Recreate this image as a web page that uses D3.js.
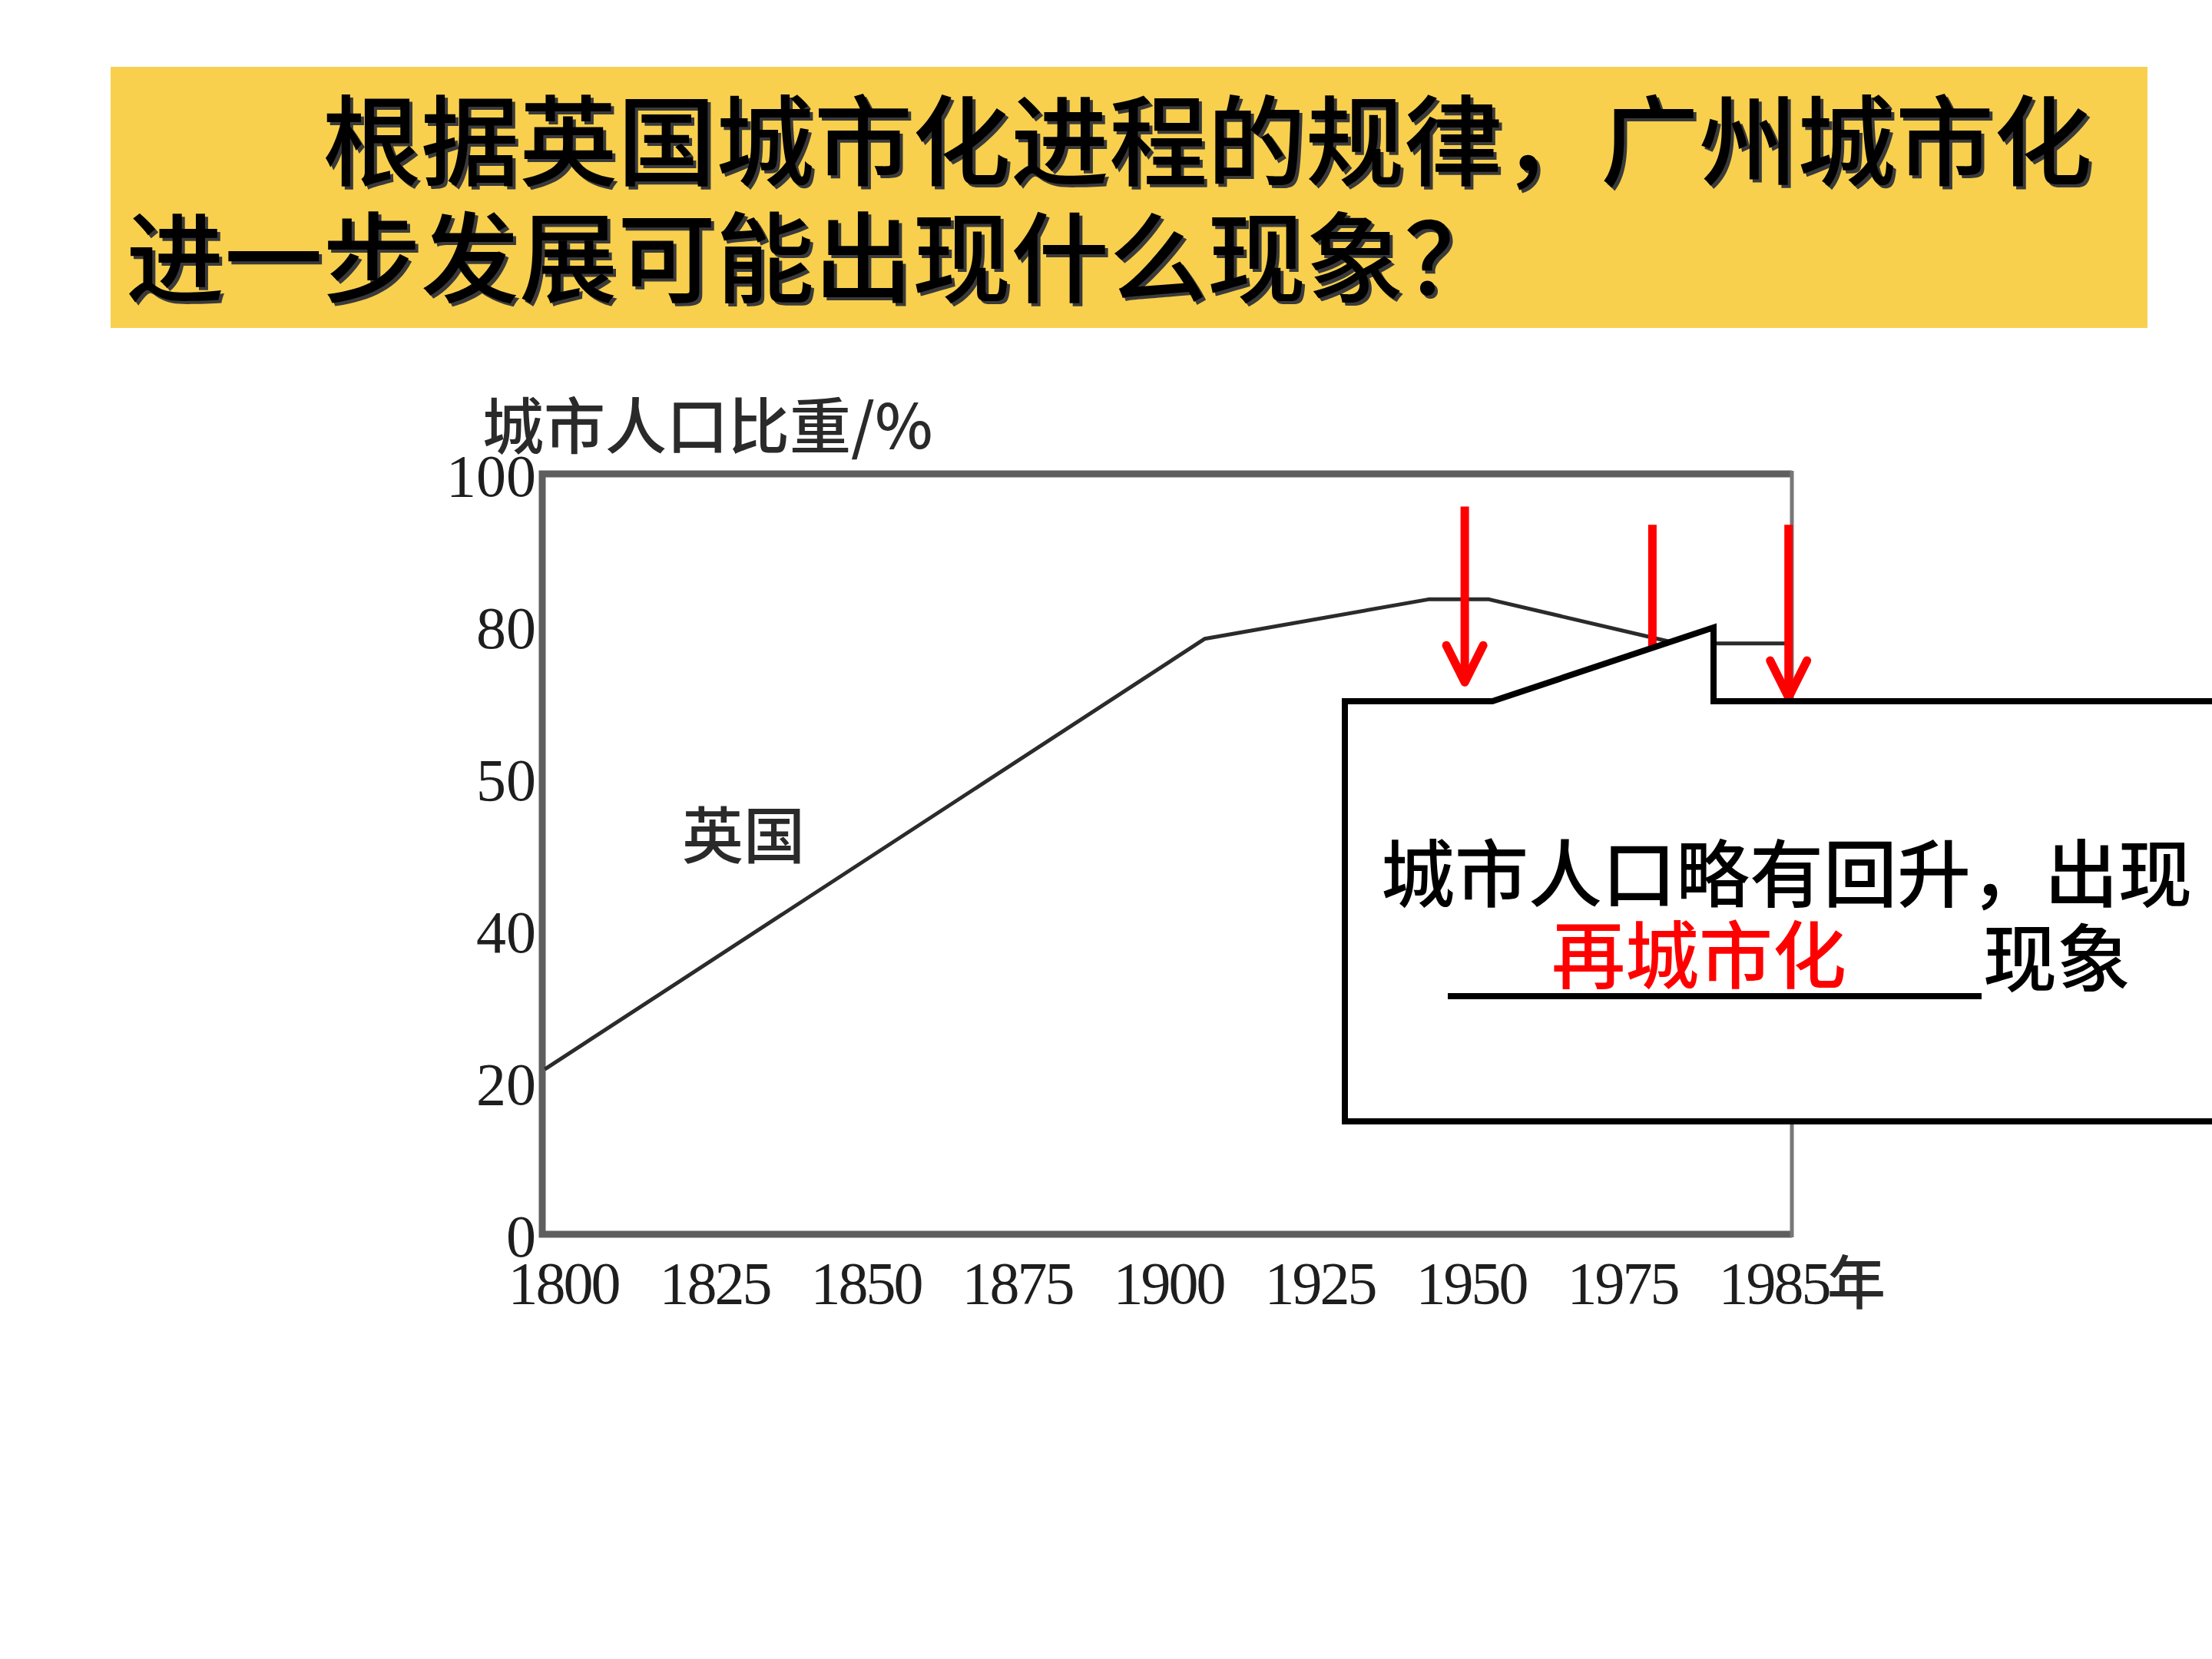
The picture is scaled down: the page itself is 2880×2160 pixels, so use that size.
<!DOCTYPE html>
<html>
<head>
<meta charset="utf-8">
<script src="https://cdn.jsdelivr.net/npm/d3@7"></script>
<style>
  body { margin: 0; background: #fff; }
  svg { display: block; }
</style>
</head>
<body>
<div id="slide"></div>
<script>
// data
var xTickYears = [1800, 1825, 1850, 1875, 1900, 1925, 1950, 1975, 1985];
var xTickLabels = ["1800", "1825", "1850", "1875", "1900", "1925", "1950", "1975", "1985"];
var yTickValues = [0, 20, 40, 60, 80, 100];
var yTickLabels = ["0", "20", "40", "50", "80", "100"];   // the source prints "50" at the 60 mark

var ukYears = [1797, 1906, 1943, 1953, 1978, 1981, 1986];
var ukShare = [21.7, 78.3, 83.5, 83.5, 78.0, 77.7, 77.7];

// red arrows: where they point (year) and their extent in % units
var arrowYears = [1949, 1977, 1986];
var arrowTop = [95.7, 93.3, 93.3];
var arrowTip = [72.6, 70.9, 70.6];

var titleLines = ["\u3000\u3000根据英国城市化进程的规律，广州城市化", "进一步发展可能出现什么现象？"];

var svg = d3.select("#slide")
    .append("svg")
    .attr("width", 2880)
    .attr("height", 2160);

// Title banner
svg.append("rect")
    .attr("x", 144).attr("y", 87)
    .attr("width", 2652).attr("height", 340)
    .style("fill", "#f8d04e");

titleLines.forEach(function(t, i) {
    // shadow then text
    svg.append("text")
        .attr("x", 164).attr("y", 232 + i * 152)
        .style("font-family", "'Noto Sans CJK SC'")
        .style("font-size", "128px").style("font-weight", 500)
        .style("fill", "#3a3a3a")
        .attr("transform", "translate(4,4)")
        .text(t);
    svg.append("text")
        .attr("x", 164).attr("y", 232 + i * 152)
        .style("font-family", "'Noto Sans CJK SC'")
        .style("font-size", "128px").style("font-weight", 500)
        .style("fill", "#000")
        .text(t);
});

// Scales
var xIndex = d3.scaleLinear().domain(xTickYears).range(d3.range(xTickYears.length));
var xPos = d3.scaleLinear().domain([0, xTickYears.length - 1]).range([733, 2309]);
var xScale = function(year) { return xPos(xIndex(year)); };
var xPoint = d3.scalePoint().domain(xTickLabels).range([733, 2309]);
var yScale = d3.scaleLinear().domain([0, 100]).range([1607, 617]);

var plotL = 706, plotR = 2333, plotT = yScale(100), plotB = yScale(0);

// Axes (labels only, frame drawn separately)
var yAxis = d3.axisLeft(yScale)
    .tickValues(yTickValues)
    .tickSize(0).tickPadding(8)
    .tickFormat(function(d, i) { return yTickLabels[i]; });
var xAxis = d3.axisBottom(xPoint).tickSize(0).tickPadding(35);

var gy = svg.append("g")
    .attr("transform", "translate(" + plotL + ",4)")
    .call(yAxis);
var gx = svg.append("g")
    .attr("transform", "translate(0," + plotB + ")")
    .call(xAxis);
[gy, gx].forEach(function(g) {
    g.select(".domain").remove();
    g.selectAll(".tick text")
        .style("font-family", "'Liberation Serif'")
        .style("font-size", "78px")
        .style("fill", "#1e1e1e");
});
gx.selectAll(".tick text").style("letter-spacing", "-3px");

// unit after last x label
var lastLabel = gx.selectAll(".tick text").filter(function(d) { return d === "1985"; });
var lastW = lastLabel.node().getComputedTextLength();
svg.append("text")
    .attr("x", xPoint("1985") + lastW / 2 - 2)
    .attr("y", plotB + 91)
    .style("font-family", "'Noto Sans CJK SC'")
    .style("font-size", "76px").style("font-weight", 500)
    .style("fill", "#2a2a2a")
    .text("年");

// y title
svg.append("text")
    .attr("x", 628).attr("y", 584)
    .style("font-family", "'Noto Sans CJK SC'")
    .style("font-size", "80px").style("font-weight", 500)
    .style("fill", "#2a2a2a")
    .text("城市人口比重/%");

// Frame
svg.append("path")
    .attr("d", "M" + plotR + "," + plotT + "H" + plotL + "V" + plotB + "H" + plotR)
    .style("fill", "none").style("stroke", "#5e5e5e").style("stroke-width", 9);
svg.append("line")
    .attr("x1", plotR).attr("x2", plotR).attr("y1", plotT - 4).attr("y2", plotB + 4)
    .style("stroke", "#777").style("stroke-width", 5);

// UK line
var ukData = ukYears.map(function(y, i) { return {year: y, v: ukShare[i]}; });
var line = d3.line()
    .x(function(d) { return xScale(d.year); })
    .y(function(d) { return yScale(d.v); });
svg.append("path")
    .datum(ukData)
    .attr("d", line)
    .style("fill", "none").style("stroke", "#2b2b2b").style("stroke-width", 5)
    .style("stroke-linejoin", "round");

svg.append("text")
    .attr("x", 888).attr("y", 1117)
    .style("font-family", "'Noto Sans CJK SC'")
    .style("font-size", "80px").style("font-weight", 500)
    .style("fill", "#2a2a2a")
    .text("英国");

// Red arrows (drawn under the callout, so the middle one disappears behind it)
arrowYears.forEach(function(yr, i) {
    var x = xScale(yr), y0 = yScale(arrowTop[i]), y1 = yScale(arrowTip[i]);
    svg.append("line")
        .attr("x1", x).attr("x2", x).attr("y1", y0).attr("y2", y1)
        .style("stroke", "#ff0000").style("stroke-width", 11);
    svg.append("path")
        .attr("d", "M" + (x - 24) + "," + (y1 - 48) + "L" + x + "," + y1 + "L" + (x + 24) + "," + (y1 - 48))
        .style("fill", "none").style("stroke", "#ff0000").style("stroke-width", 11)
        .style("stroke-linecap", "round").style("stroke-linejoin", "round");
});

// Callout shape
svg.append("path")
    .attr("d", "M1751,913 H1943 L2231,817 V913 H2900 V1460 H1751 Z")
    .style("fill", "#fff").style("stroke", "#000").style("stroke-width", 8)
    .style("stroke-linejoin", "miter");

svg.append("text")
    .attr("x", 1798).attr("y", 1173)
    .style("font-family", "'Noto Sans CJK SC'")
    .style("font-size", "96px").style("font-weight", 500)
    .style("fill", "#000")
    .text("城市人口略有回升，出现");

svg.append("line")
    .attr("x1", 1885).attr("x2", 2580).attr("y1", 1297).attr("y2", 1297)
    .style("stroke", "#000").style("stroke-width", 8);

svg.append("text")
    .attr("x", 2020).attr("y", 1279)
    .style("font-family", "'Noto Sans CJK SC'")
    .style("font-size", "96px").style("font-weight", 500)
    .style("fill", "#ff0000")
    .text("再城市化");

svg.append("text")
    .attr("x", 2582).attr("y", 1283)
    .style("font-family", "'Noto Sans CJK SC'")
    .style("font-size", "96px").style("font-weight", 500)
    .style("fill", "#000")
    .text("现象");
</script>
</body>
</html>
